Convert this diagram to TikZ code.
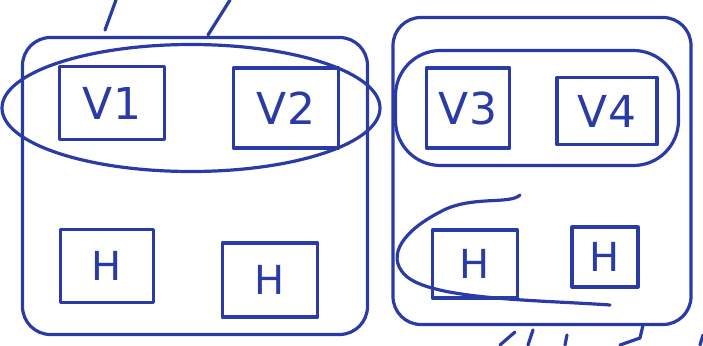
\documentclass[tikz,border=0pt]{standalone}
\usepackage{fontspec}
\setmainfont{DejaVu Sans}
\usetikzlibrary{shapes.geometric}
\definecolor{pen}{HTML}{2B3BA6}
\tikzset{
  ink/.style={draw=pen, line width=3.2pt, line cap=round, line join=round},
  vbox/.style={ink, rectangle, inner sep=0pt, text=pen, font=\fontsize{44}{44}\selectfont},
  hbox/.style={ink, rectangle, inner sep=0pt, text=pen, font=\fontsize{40}{40}\selectfont},
  group/.style={ink, rectangle, rounded corners=28pt, inner sep=0pt},
  oval/.style={ink, ellipse, inner sep=0pt},
}
\begin{document}
\begin{tikzpicture}[x=1pt,y=-1pt]
\useasboundingbox (0,0) rectangle (703,345);
% groups
\node[group, minimum width=345pt, minimum height=297pt] (gl) at (195,186) {};
\node[group, minimum width=298pt, minimum height=307pt] (gr) at (542,171) {};
% ovals
\node[oval, minimum width=378pt, minimum height=127pt] (ol) at (191,108) {};
\node[ink, rectangle, rounded corners=45pt, minimum width=283pt, minimum height=115pt] (or) at (537,108) {};
% V boxes
\node[vbox, minimum width=105pt, minimum height=73pt] (v1) at (112,103) {V1};
\node[vbox, minimum width=105pt, minimum height=80pt] (v2) at (286,108) {V2};
\node[vbox, minimum width=83pt, minimum height=80pt] (v3) at (468,108) {V3};
\node[vbox, minimum width=100pt, minimum height=67pt] (v4) at (607,111) {V4};
% H boxes
\node[hbox, minimum width=93pt, minimum height=73pt] (h1) at (107,266) {H};
\node[hbox, minimum width=95pt, minimum height=74pt] (h2) at (270,280) {H};
\node[hbox, minimum width=85pt, minimum height=68pt] (h3) at (475,264) {H};
\node[hbox, minimum width=66pt, minimum height=60pt] (h4) at (605,257) {H};
% loop around lower-left H in right group
\coordinate (ls) at (520,195);
\coordinate (le) at (610,305);
\draw[ink] (ls) .. controls (510,205) and (470,195) .. (440,212)
  .. controls (405,230) and (385,255) .. (405,275)
  .. controls (430,300) and (540,300) .. (le);
% top strokes
\coordinate (t1a) at (116,0); \coordinate (t1b) at (105,30);
\coordinate (t2a) at (230,0); \coordinate (t2b) at (208,35);
\draw[ink] (t1a) -- (t1b);
\draw[ink] (t2a) -- (t2b);
% bottom scribbles
\coordinate (b1a) at (500,345); \coordinate (b1b) at (515,332);
\coordinate (b2a) at (528,345); \coordinate (b2b) at (533,330);
\coordinate (b3a) at (565,345); \coordinate (b3b) at (567,335);
\coordinate (b4a) at (620,345); \coordinate (b4b) at (640,338); \coordinate (b4c) at (643,325);
\coordinate (b5a) at (700,345); \coordinate (b5b) at (703,335);
\draw[ink] (b1a) -- (b1b);
\draw[ink] (b2a) -- (b2b);
\draw[ink] (b3a) -- (b3b);
\draw[ink] (b4a) -- (b4b) -- (b4c);
\draw[ink] (b5a) -- (b5b);
\end{tikzpicture}
\end{document}
